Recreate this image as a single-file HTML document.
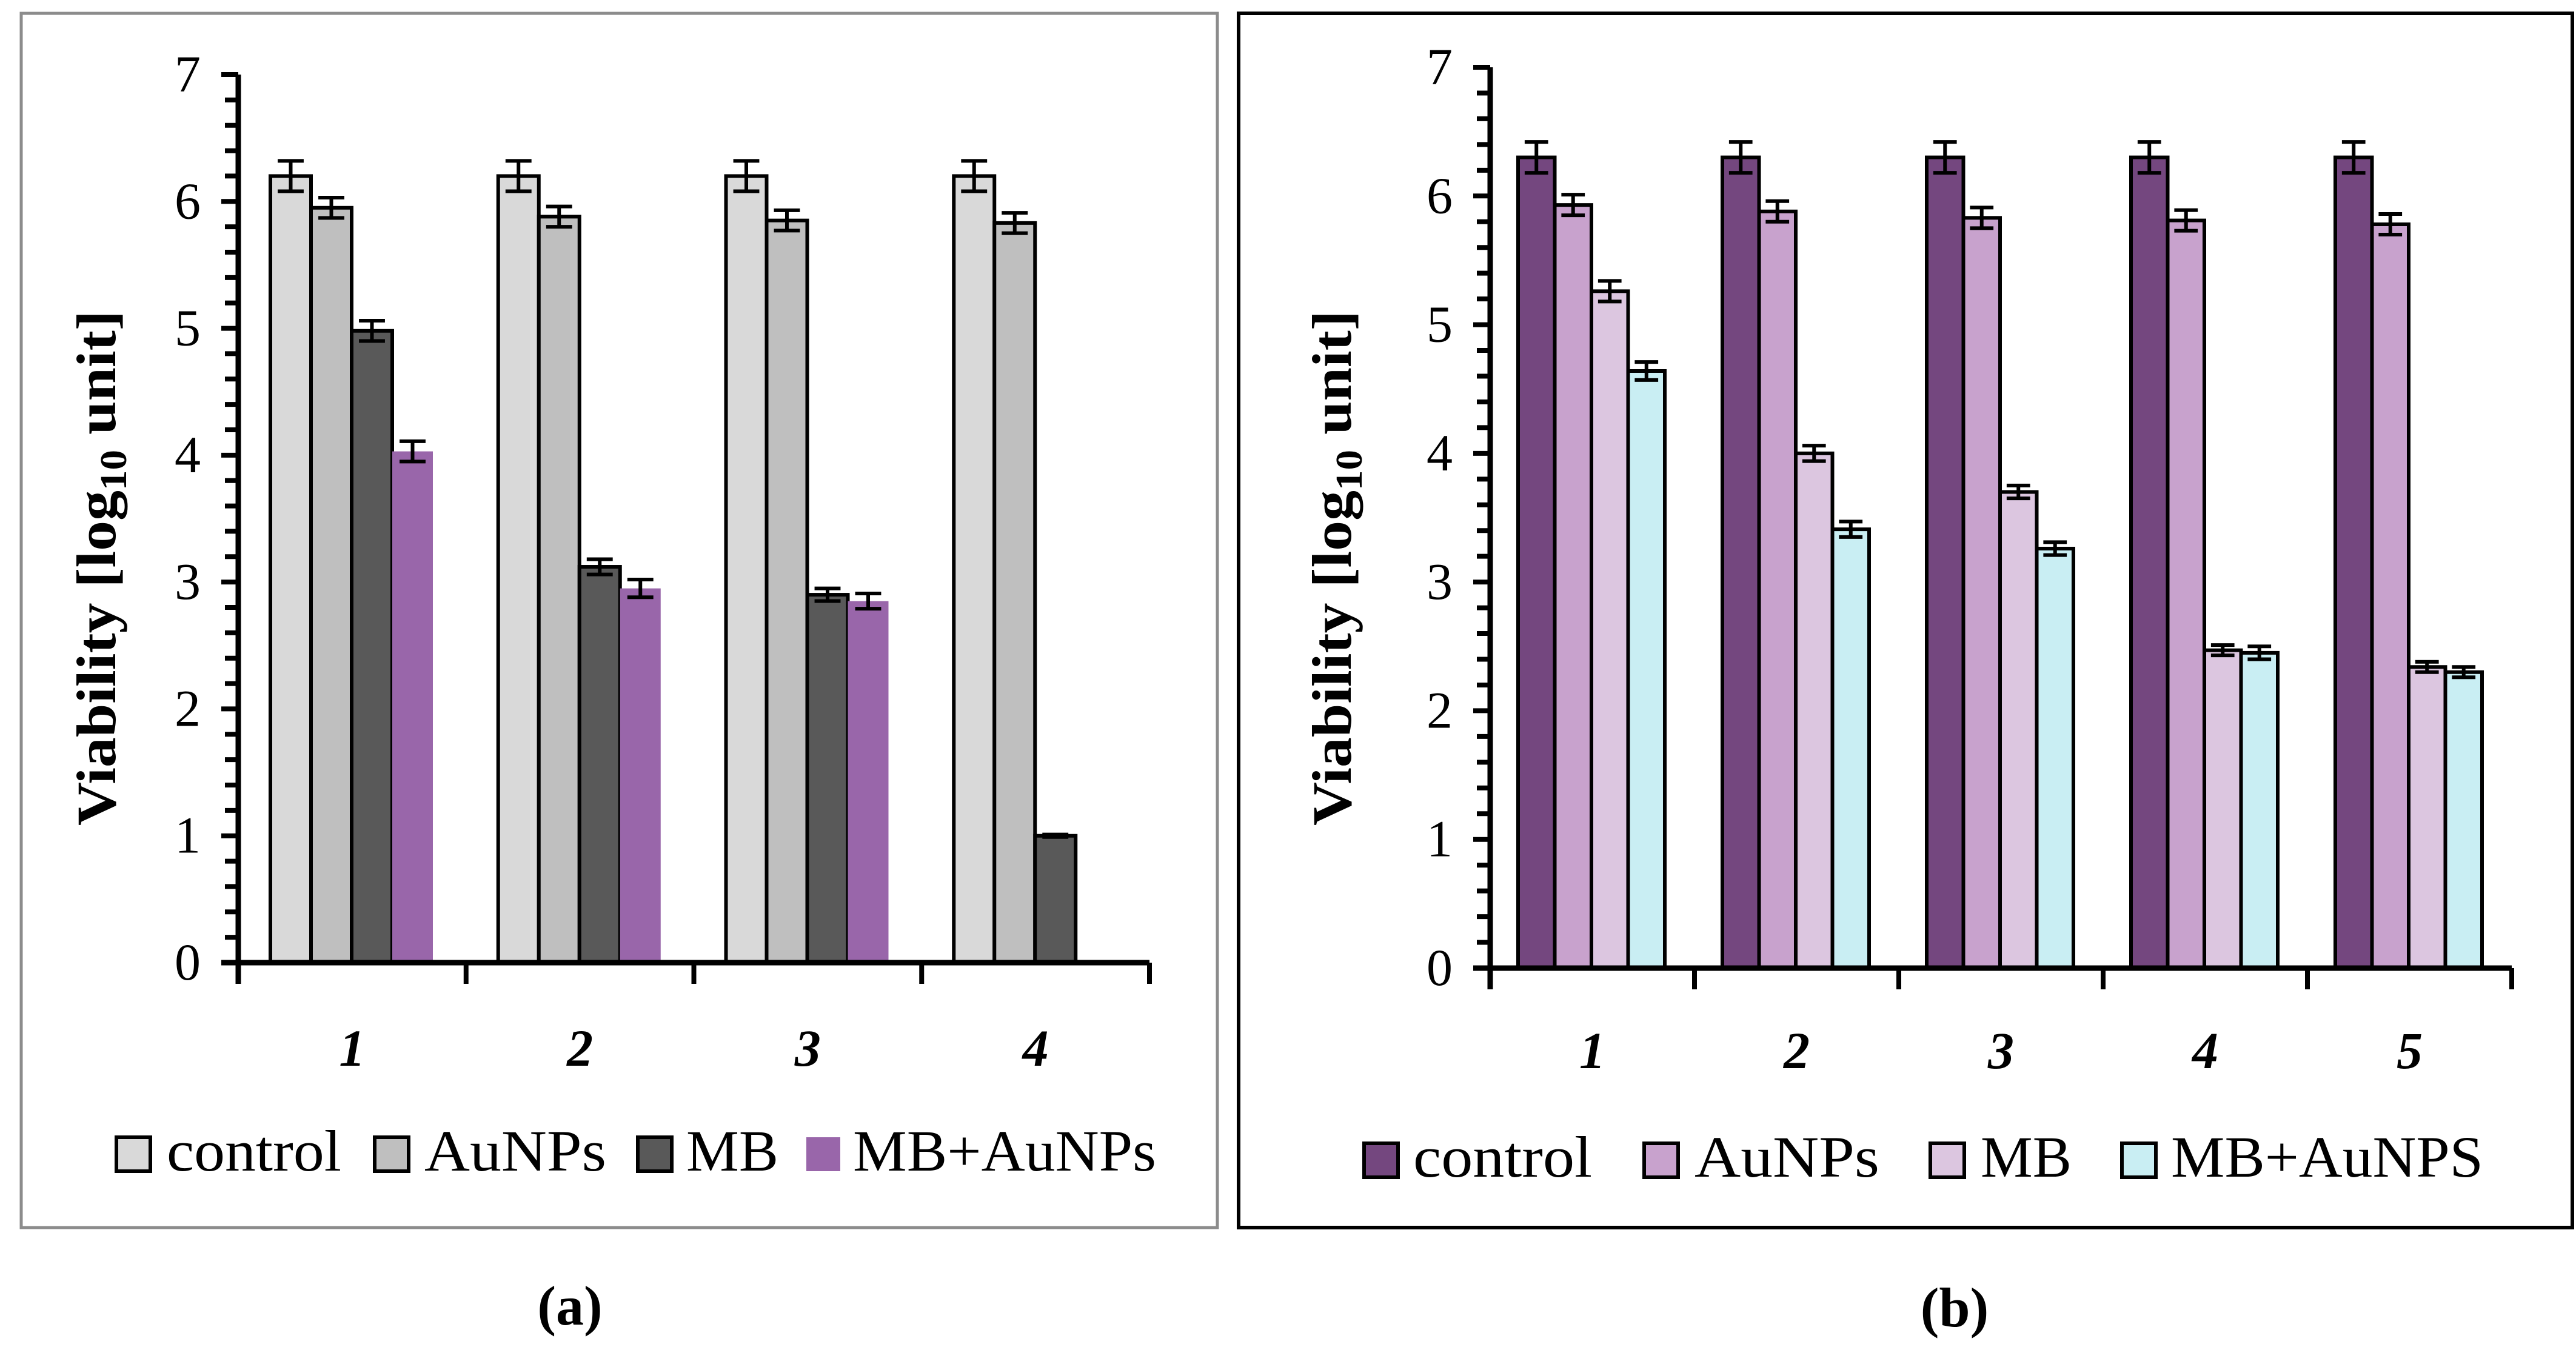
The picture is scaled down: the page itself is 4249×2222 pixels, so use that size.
<!DOCTYPE html>
<html><head><meta charset="utf-8"><style>
html,body{margin:0;padding:0;background:#fff;}
svg{display:block;font-family:"Liberation Serif",serif;}
</style></head><body>
<svg id="s" width="4249" height="2222" viewBox="0 0 4249 2222" xmlns="http://www.w3.org/2000/svg">
<rect x="0" y="0" width="4249" height="2222" fill="#fff"/>
<rect x="35" y="22" width="1973" height="2003" fill="none" stroke="#8c8c8c" stroke-width="5"/>
<rect x="2043" y="22" width="2200" height="2003" fill="none" stroke="#000" stroke-width="6"/>
<text x="940" y="2185" font-size="92" font-weight="bold" text-anchor="middle">(<tspan fill="#000">a</tspan>)</text>
<text x="3224" y="2188" font-size="92" font-weight="bold" text-anchor="middle">(b)</text>
</svg>
<script>
// Panel A data
const catsA = ['1','2','3','4'];
const seriesNamesA = ['control','AuNPs','MB','MB+AuNPs'];
const controlA = [6.2, 6.2, 6.2, 6.2];
const aunpsA = [5.95, 5.88, 5.85, 5.83];
const mbA = [4.98, 3.12, 2.9, 1.0];
const mbAunpsA = [4.03, 2.95, 2.85, 0];
const errControlA = [0.12, 0.12, 0.12, 0.12];
const errAunpsA = [0.08, 0.08, 0.08, 0.08];
const errMbA = [0.08, 0.06, 0.05, 0.01];
const errMbAunpsA = [0.08, 0.07, 0.06, 0];
// Panel B data
const catsB = ['1','2','3','4','5'];
const seriesNamesB = ['control','AuNPs','MB','MB+AuNPS'];
const controlB = [6.3, 6.3, 6.3, 6.3, 6.3];
const aunpsB = [5.93, 5.88, 5.83, 5.81, 5.78];
const mbB = [5.26, 4.0, 3.7, 2.47, 2.34];
const mbAunpsB = [4.64, 3.41, 3.26, 2.45, 2.3];
const errControlB = [0.12, 0.12, 0.12, 0.12, 0.12];
const errAunpsB = [0.08, 0.08, 0.08, 0.08, 0.08];
const errMbB = [0.08, 0.06, 0.05, 0.04, 0.04];
const errMbAunpsB = [0.07, 0.06, 0.05, 0.05, 0.04];
const yTicks = [0,1,2,3,4,5,6,7];

const NS='http://www.w3.org/2000/svg';
const svg=document.getElementById('s');
function mk(tag,attrs,parent){const e=document.createElementNS(NS,tag);for(const k in attrs)e.setAttribute(k,attrs[k]);(parent||svg).appendChild(e);return e;}

function drawPanel(cfg){
  const g=mk('g',{});
  
  
  const y=v=>cfg.y0-(v/7)*(cfg.y0-cfg.y7);
  const n=cfg.cats.length;
  const cw=(cfg.xEnd-cfg.x0)/n;
  const xc=(i)=>cfg.x0+i*cw;
  // bars
  cfg.series.forEach((s,si)=>{
    s.vals.forEach((v,i)=>{
      if(v<=0) return;
      const bx=xc(i)+cfg.off+si*cfg.bw;
      const r=mk('rect',{x:bx,y:y(v),width:cfg.bw,height:cfg.y0-y(v),fill:s.color,stroke:s.stroke?'#000':'none','stroke-width':6},g);
      
      
      const e=s.err[i];
      if(e>0){
        const cx=bx+cfg.bw/2, cap=cfg.bw*0.32;
        const eb=mk('path',{d:`M${cx},${y(v+e)}V${y(v-e)}M${cx-cap},${y(v+e)}H${cx+cap}M${cx-cap},${y(v-e)}H${cx+cap}`,stroke:'#000','stroke-width':6,fill:'none'},g);
        
        
      }
    });
  });
  // axes
  const ax=mk('path',{d:`M${cfg.x0},${y(7)}V${cfg.y0+35}M${cfg.x0-28},${cfg.y0}H${cfg.xEnd}`,stroke:'#000','stroke-width':9,fill:'none'},g);
  
  
  let tk='';
  for(let k=0;k<=35;k++){const v=k/5;const L=(k%5===0)?28:22;tk+=`M${cfg.x0-L},${y(v)}H${cfg.x0}`;}
  for(let i=1;i<=n;i++){tk+=`M${xc(i)},${cfg.y0}V${cfg.y0+35}`;}
  const tp=mk('path',{d:tk,stroke:'#000','stroke-width':8,fill:'none'},g);
  
  
  yTicks.forEach(v=>{
    const t=mk('text',{x:cfg.x0-62,y:y(v)+28,'font-size':86,'text-anchor':'end'},g);
    t.textContent=v;
    
    
  });
  cfg.cats.forEach((c,i)=>{
    const t=mk('text',{x:xc(i)+cw/2,y:cfg.catY,'font-size':86,'font-weight':'bold','font-style':'italic','text-anchor':'middle'},g);
    t.textContent=c;
    
    
  });
  // y title
  const yt=mk('text',{x:0,y:0,'font-size':92,'font-weight':'bold','text-anchor':'middle',transform:`translate(${cfg.titleX},${cfg.titleY}) rotate(-90)`,textLength:850,lengthAdjust:'spacingAndGlyphs'},g);
  
  
  yt.appendChild(document.createTextNode('Viability [log'));
  const sub=mk('tspan',{'font-size':62,dy:18},yt); sub.textContent='10';
  const rest=mk('tspan',{dy:-18},yt); rest.textContent=' unit]';
  // legend
  cfg.series.forEach((s,si)=>{
    const lg=mk('g',{},g);
    
    
    mk('rect',{x:cfg.legBox[si],y:cfg.legY-30,width:56,height:56,fill:s.color,stroke:s.stroke?'#000':'none','stroke-width':6},lg);
    const t=mk('text',{x:cfg.legText[si],y:cfg.legY+25,'font-size':96,textLength:cfg.legW[si],lengthAdjust:'spacingAndGlyphs'},lg);
    t.textContent=s.name;
  });
}

drawPanel({name:'panel-a-chart',cats:catsA,x0:393,xEnd:1896,y0:1588,y7:123,off:53,bw:67,catY:1758,titleX:190,titleY:937,
  series:[
    {name:seriesNamesA[0],vals:controlA,err:errControlA,color:'#d9d9d9',stroke:true},
    {name:seriesNamesA[1],vals:aunpsA,err:errAunpsA,color:'#bfbfbf',stroke:true},
    {name:seriesNamesA[2],vals:mbA,err:errMbA,color:'#595959',stroke:true},
    {name:seriesNamesA[3],vals:mbAunpsA,err:errMbAunpsA,color:'#9966aa',stroke:false}],
  legY:1906,legBox:[192,618,1052,1330],legText:[275,700,1132,1407],legW:[288,300,152,500]});

drawPanel({name:'panel-b-chart',cats:catsB,x0:2458,xEnd:4143,y0:1597,y7:111,off:46,bw:60.5,catY:1762,titleX:2228,titleY:937,
  series:[
    {name:seriesNamesB[0],vals:controlB,err:errControlB,color:'#74477f',stroke:true},
    {name:seriesNamesB[1],vals:aunpsB,err:errAunpsB,color:'#c8a2cd',stroke:true},
    {name:seriesNamesB[2],vals:mbB,err:errMbB,color:'#dcc6e0',stroke:true},
    {name:seriesNamesB[3],vals:mbAunpsB,err:errMbAunpsB,color:'#c9eef3',stroke:true}],
  legY:1916,legBox:[2250,2712,3184,3500],legText:[2331,2795,3267,3581],legW:[295,305,150,515]});
</script>
</body></html>
